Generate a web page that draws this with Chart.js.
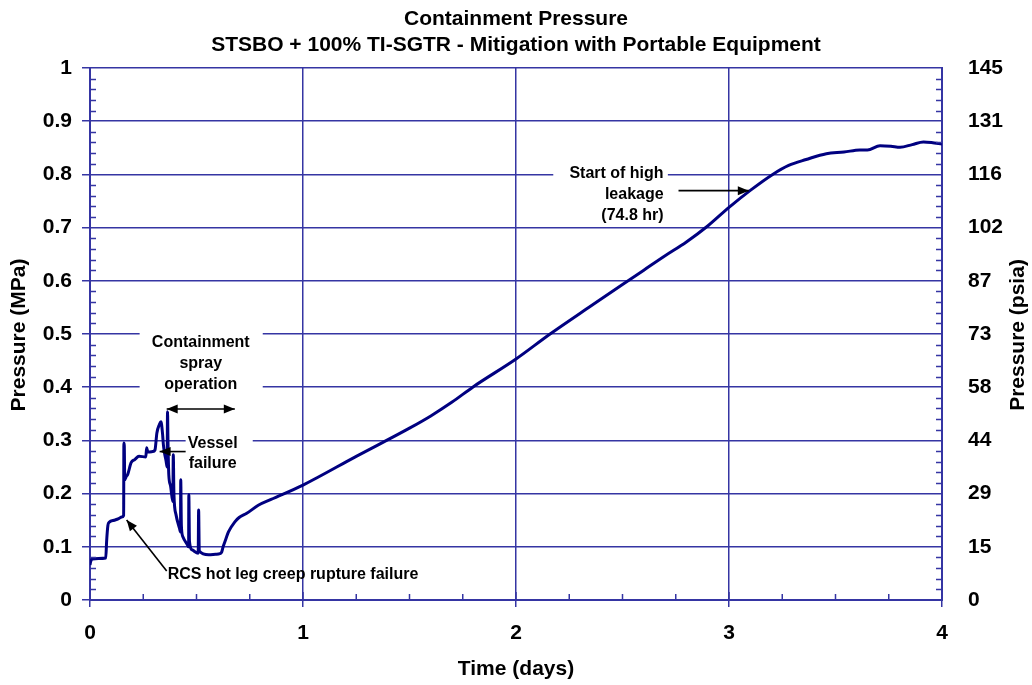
<!DOCTYPE html>
<html>
<head>
<meta charset="utf-8">
<title>Containment Pressure</title>
<script src="https://cdn.jsdelivr.net/npm/chart.js@4.4.1/dist/chart.umd.min.js"></script>
<style>
  html, body { margin: 0; padding: 0; background: #fff; }
  #wrap { width: 1032px; height: 685px; }
</style>
</head>
<body>
<div id="wrap"><canvas id="pressureChart" width="1032" height="685"></canvas></div>
<script>
"use strict";

// time after event start, days
var timeDays = [
	0.000, 0.003, 0.010, 0.040, 0.074, 0.078, 0.084, 0.090, 0.114, 0.135,
	0.149, 0.158, 0.159, 0.161, 0.163, 0.170, 0.177, 0.193, 0.210, 0.230,
	0.262, 0.266, 0.272, 0.294, 0.305, 0.314, 0.326, 0.333, 0.340, 0.345,
	0.350, 0.357, 0.362, 0.364, 0.366, 0.370, 0.378, 0.389, 0.391, 0.394,
	0.404, 0.420, 0.425, 0.426, 0.429, 0.436, 0.457, 0.463, 0.464, 0.467,
	0.480, 0.508, 0.510, 0.513, 0.557, 0.590, 0.610, 0.618, 0.625, 0.639,
	0.650, 0.680, 0.700, 0.736, 0.790, 0.850, 1.000, 1.250, 1.500, 1.600,
	1.700, 1.800, 2.000, 2.160, 2.353, 2.500, 2.600, 2.700, 2.800, 2.900,
	3.000, 3.100, 3.205, 3.280, 3.362, 3.457, 3.540, 3.614, 3.650, 3.709,
	3.760, 3.803, 3.860, 3.913, 3.950, 4.000
];

// containment pressure, MPa
var pressureMPa = [
	0.066, 0.072, 0.077, 0.078, 0.079, 0.110, 0.140, 0.146, 0.150, 0.153,
	0.156, 0.159, 0.295, 0.290, 0.226, 0.232, 0.236, 0.258, 0.264, 0.270,
	0.269, 0.286, 0.278, 0.279, 0.282, 0.314, 0.330, 0.335, 0.315, 0.290,
	0.276, 0.262, 0.250, 0.354, 0.300, 0.235, 0.215, 0.185, 0.273, 0.200,
	0.160, 0.135, 0.128, 0.226, 0.140, 0.119, 0.104, 0.100, 0.198, 0.110,
	0.094, 0.088, 0.169, 0.092, 0.085, 0.086, 0.087, 0.090, 0.100, 0.116,
	0.128, 0.147, 0.155, 0.163, 0.178, 0.189, 0.216, 0.270, 0.323, 0.346,
	0.372, 0.401, 0.453, 0.500, 0.553, 0.593, 0.620, 0.647, 0.673, 0.703,
	0.738, 0.770, 0.800, 0.817, 0.828, 0.839, 0.842, 0.846, 0.846, 0.854,
	0.853, 0.851, 0.856, 0.861, 0.860, 0.857
];

var mpaTickLabels = ["0", "0.1", "0.2", "0.3", "0.4", "0.5", "0.6", "0.7", "0.8", "0.9", "1"];
var psiaTickLabels = ["0", "15", "29", "44", "58", "73", "87", "102", "116", "131", "145"];
var dayTickLabels = ["0", "1", "2", "3", "4"];

var FONT = "'Liberation Sans', Arial, Helvetica, sans-serif";
var GRID = "#3535a3";
var LINE = "#000080";

// callouts, placed in data units (days, MPa)
var notes = [
	{ lines: ["Containment", "spray", "operation"], x: 0.52, y: [0.4835, 0.444, 0.4045], align: "center",
		box: [0.233, 0.811, 0.505, 0.383] },
	{ lines: ["Vessel", "failure"], x: 0.576, y: [0.294, 0.256], align: "center",
		box: [0.449, 0.764, 0.318, 0.240] },
	{ lines: ["RCS hot leg creep rupture failure"], x: 0.953, y: [0.047], align: "center", box: null },
	{ lines: ["Start of high", "leakage", "(74.8 hr)"], x: 2.693, y: [0.8015, 0.762, 0.7225], align: "right",
		box: [2.175, 2.713, 0.822, 0.712] }
];
var arrows = [
	{ from: [0.36, 0.359], to: [0.68, 0.359], both: true },
	{ from: [0.449, 0.279], to: [0.327, 0.279] },
	{ from: [0.36, 0.0546], to: [0.172, 0.1505] },
	{ from: [2.763, 0.7695], to: [3.093, 0.7695] }
];

function arrowHead(ctx, x1, y1, x2, y2) {
	var a = Math.atan2(y2 - y1, x2 - x1), len = 11, w = 4.5;
	ctx.beginPath();
	ctx.moveTo(x2, y2);
	ctx.lineTo(x2 - len * Math.cos(a) + w * Math.sin(a), y2 - len * Math.sin(a) - w * Math.cos(a));
	ctx.lineTo(x2 - len * Math.cos(a) - w * Math.sin(a), y2 - len * Math.sin(a) + w * Math.cos(a));
	ctx.closePath();
	ctx.fill();
}

var calloutPlugin = {
	id: "callouts",
	beforeDatasetsDraw: function (chart) {
		var ctx = chart.ctx, xs = chart.scales.x, ys = chart.scales.y;
		ctx.save();
		ctx.fillStyle = "#fff";
		notes.forEach(function (n) {
			if (!n.box) { return; }
			var l = xs.getPixelForValue(n.box[0]), r = xs.getPixelForValue(n.box[1]);
			var t = ys.getPixelForValue(n.box[2]), b = ys.getPixelForValue(n.box[3]);
			ctx.fillRect(l, t, r - l, b - t);
		});
		ctx.restore();
	},
	afterDatasetsDraw: function (chart) {
		var ctx = chart.ctx, xs = chart.scales.x, ys = chart.scales.y;
		ctx.save();
		ctx.fillStyle = "#000";
		ctx.strokeStyle = "#000";
		ctx.lineWidth = 1.6;
		arrows.forEach(function (a) {
			var x1 = xs.getPixelForValue(a.from[0]), y1 = ys.getPixelForValue(a.from[1]);
			var x2 = xs.getPixelForValue(a.to[0]), y2 = ys.getPixelForValue(a.to[1]);
			ctx.beginPath();
			ctx.moveTo(x1, y1);
			ctx.lineTo(x2, y2);
			ctx.stroke();
			arrowHead(ctx, x1, y1, x2, y2);
			if (a.both) { arrowHead(ctx, x2, y2, x1, y1); }
		});
		ctx.font = "bold 16px " + FONT;
		ctx.textBaseline = "middle";
		notes.forEach(function (n) {
			ctx.textAlign = n.align;
			n.lines.forEach(function (s, i) {
				ctx.fillText(s, xs.getPixelForValue(n.x), ys.getPixelForValue(n.y[i]));
			});
		});
		ctx.restore();
	},
	afterDraw: function (chart) {
		var ctx = chart.ctx, xs = chart.scales.x, ys = chart.scales.y, area = chart.chartArea;
		var v, p, i;
		ctx.save();
		// minor ticks, pointing into the plot
		ctx.strokeStyle = GRID;
		ctx.lineWidth = 1.5;
		ctx.beginPath();
		for (i = 1; i < 50; i++) {
			if (i % 5 === 0) { continue; }
			p = Math.round(ys.getPixelForValue(i * 0.02)) + 0.5;
			ctx.moveTo(area.left, p); ctx.lineTo(area.left + 6, p);
			ctx.moveTo(area.right, p); ctx.lineTo(area.right - 6, p);
		}
		for (v = 0.25; v < 4; v += 0.25) {
			p = xs.getPixelForValue(v);
			if (v % 1 === 0) {
				ctx.moveTo(p, area.bottom); ctx.lineTo(p, area.bottom - 8);
			} else {
				ctx.moveTo(p, area.bottom); ctx.lineTo(p, area.bottom - 6);
			}
		}
		ctx.stroke();

		// titles
		ctx.fillStyle = "#000";
		ctx.font = "bold 21px " + FONT;
		ctx.textAlign = "center";
		ctx.textBaseline = "alphabetic";
		ctx.fillText("Containment Pressure", 516, 25);
		ctx.fillText("STSBO + 100% TI-SGTR - Mitigation with Portable Equipment", 516, 51);
		ctx.textBaseline = "middle";
		ctx.fillText("Time (days)", (area.left + area.right) / 2, 669);
		ctx.translate(19, 335);
		ctx.rotate(-Math.PI / 2);
		ctx.fillText("Pressure (MPa)", 0, 0);
		ctx.rotate(Math.PI / 2);
		ctx.translate(1018 - 19, 0);
		ctx.rotate(-Math.PI / 2);
		ctx.fillText("Pressure (psia)", 0, 0);
		ctx.restore();
	}
};

new Chart(document.getElementById("pressureChart"), {
	type: "line",
	data: {
		datasets: [{
			label: "Containment pressure",
			data: timeDays.map(function (t, i) { return { x: t, y: pressureMPa[i] }; }),
			borderColor: LINE,
			borderWidth: 3,
			pointRadius: 0,
			cubicInterpolationMode: "monotone",
			fill: false
		}]
	},
	options: {
		responsive: false,
		animation: false,
		devicePixelRatio: 1,
		layout: { padding: { top: 68, left: 0, right: 0, bottom: 0 } },
		plugins: {
			legend: { display: false },
			title: { display: false },
			tooltip: { enabled: false }
		},
		scales: {
			x: {
				type: "linear",
				min: 0,
				max: 4,
				afterFit: function (scale) { scale.height = 85; },
				ticks: {
					stepSize: 1,
					padding: 14,
					color: "#000",
					font: { family: FONT, size: 21, weight: "bold" },
					callback: function (v) { return dayTickLabels[Math.round(v)]; }
				},
				grid: { color: GRID, lineWidth: 1.5, tickLength: 7 },
				border: { color: GRID, width: 2 }
			},
			y: {
				position: "left",
				min: 0,
				max: 1,
				afterFit: function (scale) { scale.width = 90; },
				ticks: {
					stepSize: 0.1,
					padding: 10,
					color: "#000",
					font: { family: FONT, size: 21, weight: "bold" },
					callback: function (v) { return mpaTickLabels[Math.round(v * 10)]; }
				},
				grid: { color: GRID, lineWidth: 1.5, tickLength: 8 },
				border: { color: GRID, width: 2 }
			},
			y2: {
				position: "right",
				min: 0,
				max: 1,
				afterFit: function (scale) { scale.width = 90; },
				ticks: {
					stepSize: 0.1,
					padding: 18,
					color: "#000",
					font: { family: FONT, size: 21, weight: "bold" },
					callback: function (v) { return psiaTickLabels[Math.round(v * 10)]; }
				},
				grid: { display: false },
				border: { color: GRID, width: 2 }
			}
		}
	},
	plugins: [calloutPlugin]
});
</script>
</body>
</html>
